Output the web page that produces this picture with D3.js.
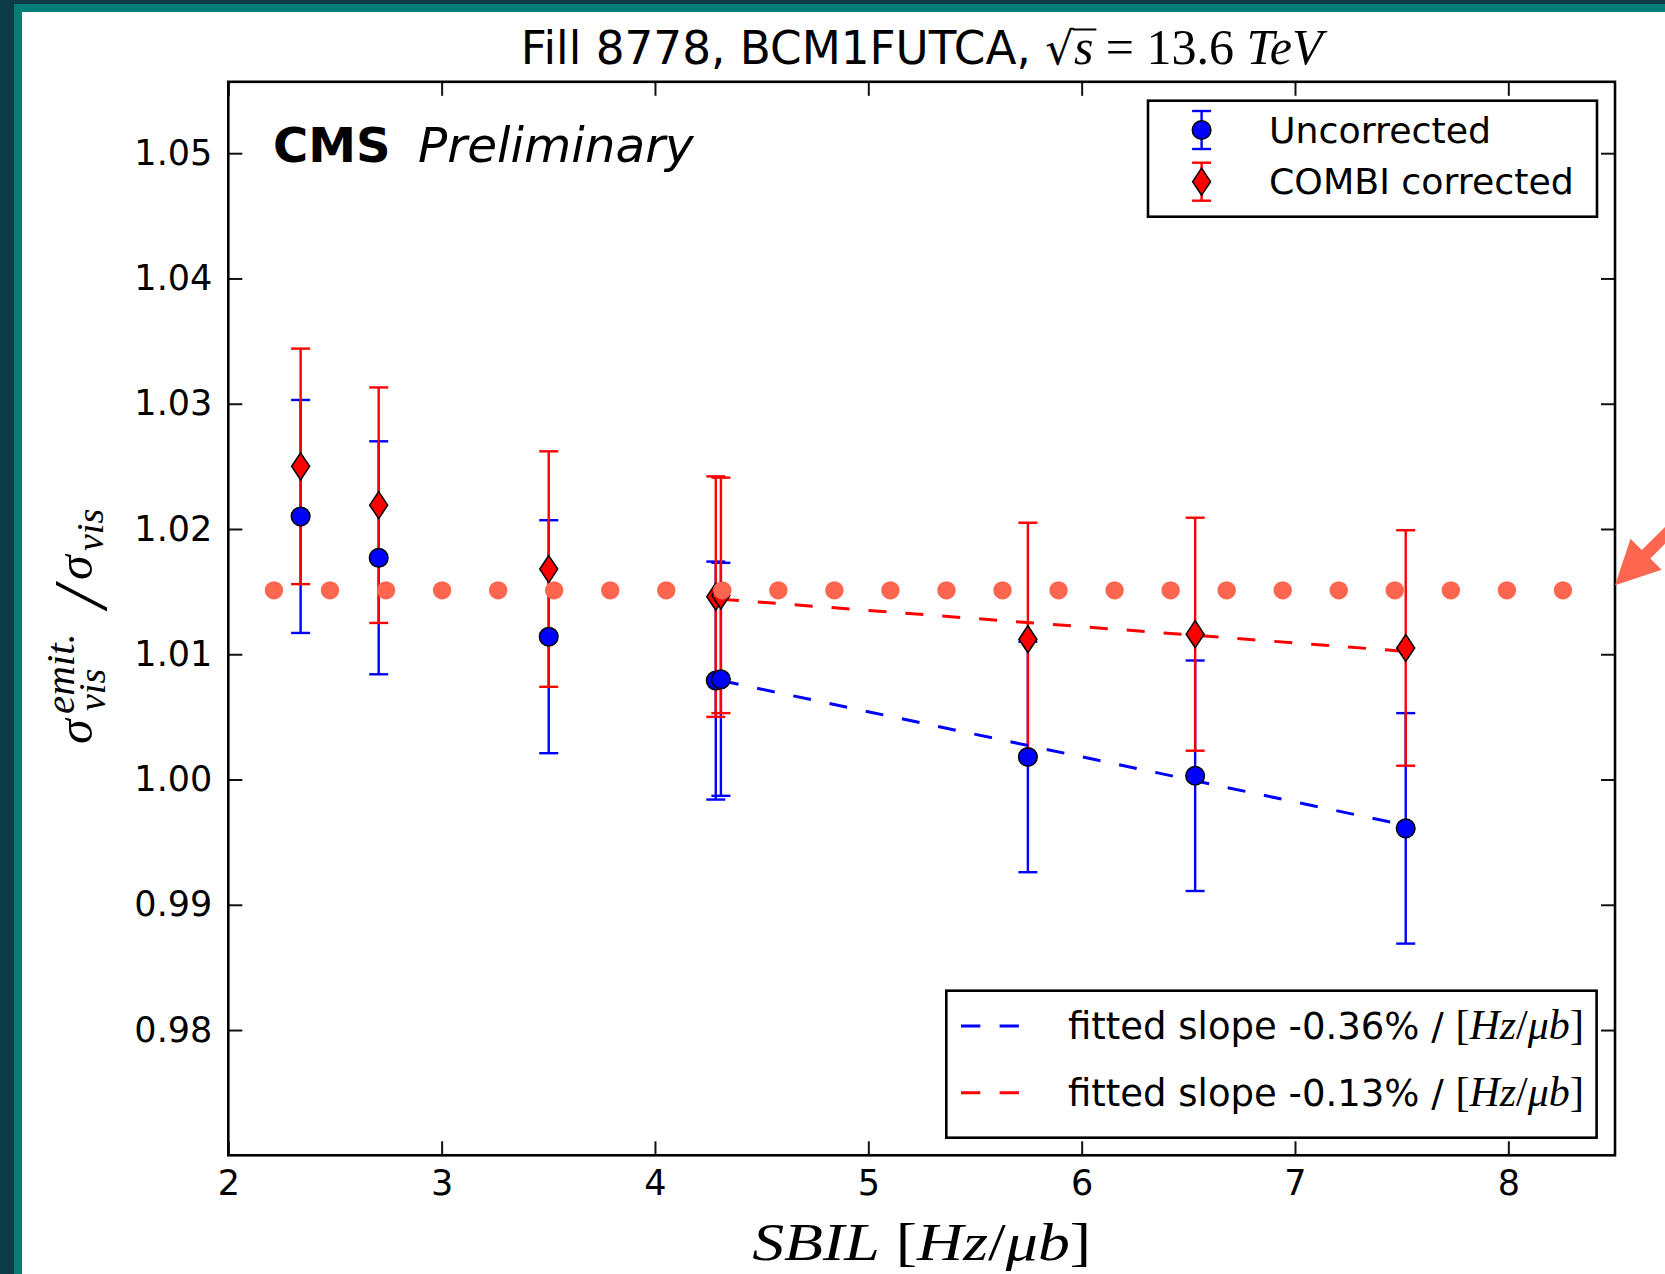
<!DOCTYPE html>
<html>
<head>
<meta charset="utf-8">
<script src="https://cdn.jsdelivr.net/npm/d3@7"></script>
<style>
  body { margin: 0; background: #fff; }
  svg { display: block; }
  text { white-space: pre; }
</style>
</head>
<body>
<script>
// Emittance-scan visible cross section ratio vs SBIL, fill 8778 (BCM1FUTCA)
const sbil           = [2.339, 2.705, 3.502, 4.285, 4.309, 5.748, 6.532, 7.519];
const uncorrected    = [1.0210, 1.0177, 1.0114, 1.0079, 1.0080, 1.0018, 1.0003, 0.9961];
const uncorrectedErr = [0.0093, 0.0093, 0.0093, 0.0095, 0.0093, 0.0092, 0.0092, 0.0092];
const combi          = [1.0250, 1.0219, 1.0168, 1.0146, 1.0147, 1.0112, 1.0116, 1.0105];
const combiErr       = [0.0094, 0.0094, 0.0094, 0.0096, 0.0094, 0.0093, 0.0093, 0.0094];

// linear fits over the high-SBIL points (slope per Hz/µb)
const fitRange       = [4.309, 7.519];
const fitSlopes      = [-0.0036, -0.0013];
const fitStartValues = [1.0079, 1.0144];
const fitLabels      = ["fitted slope -0.36% / ", "fitted slope -0.13% / "];

const seriesNames = ["Uncorrected", "COMBI corrected"];
const xTicks = [2, 3, 4, 5, 6, 7, 8];
const yTicks = [0.98, 0.99, 1.00, 1.01, 1.02, 1.03, 1.04, 1.05];

// highlighted reference level (dotted guide with arrow)
const refLevel = 1.0151;
const refSpan  = [2.214, 8.256];
const refDots  = 24;

const fSans  = "'DejaVu Sans', 'Noto Sans', sans-serif";
const fSerif = "'Liberation Serif', 'DejaVu Serif', serif";
const BLUE = "#0000ff", RED = "#ff0000", ACCENT = "#ff6650";

const W = 1665, H = 1274;
const M = { left: 228.3, right: 1615, top: 81.8, bottom: 1155.3 };

const svg = d3.select("body").append("svg").attr("width", W).attr("height", H);
svg.append("rect").attr("width", W).attr("height", H).attr("fill", "#fff");

// slide frame stripes
svg.append("rect").attr("x", 0).attr("y", 0).attr("width", W).attr("height", 12).attr("fill", "#047d76");
svg.append("rect").attr("x", 0).attr("y", 0).attr("width", 22).attr("height", H).attr("fill", "#047d76");
svg.append("rect").attr("x", 0).attr("y", 0).attr("width", W).attr("height", 4).attr("fill", "#0d3b47");
svg.append("rect").attr("x", 0).attr("y", 0).attr("width", 14).attr("height", H).attr("fill", "#0d3b47");

const x = d3.scaleLinear().domain([2, 8.5]).range([M.left, M.right]);
const y = d3.scaleLinear().domain([0.97, 1.0557]).range([M.bottom, M.top]);

// axes with inward ticks on all four sides
const styleAxis = g => {
  g.select(".domain").remove();
  g.selectAll(".tick line").attr("stroke", "#111").attr("stroke-width", 2);
  g.selectAll(".tick text").attr("font-family", fSans).attr("font-size", 35).attr("fill", "#000");
};
svg.append("g").attr("transform", `translate(0,${M.bottom})`)
  .call(d3.axisBottom(x).tickValues(xTicks).tickFormat(d3.format("d")).tickSize(-14).tickSizeOuter(0).tickPadding(15))
  .call(styleAxis);
svg.append("g").attr("transform", `translate(0,${M.top})`)
  .call(d3.axisTop(x).tickValues(xTicks).tickFormat("").tickSize(-14).tickSizeOuter(0))
  .call(styleAxis);
svg.append("g").attr("transform", `translate(${M.left},0)`)
  .call(d3.axisLeft(y).tickValues(yTicks).tickFormat(d3.format(".2f")).tickSize(-14).tickSizeOuter(0).tickPadding(16))
  .call(styleAxis);
svg.append("g").attr("transform", `translate(${M.right},0)`)
  .call(d3.axisRight(y).tickValues(yTicks).tickFormat("").tickSize(-14).tickSizeOuter(0))
  .call(styleAxis);

const series = [
  { name: seriesNames[0], vals: uncorrected, errs: uncorrectedErr, color: BLUE, marker: "circle" },
  { name: seriesNames[1], vals: combi,       errs: combiErr,       color: RED,  marker: "diamond" }
];
const CAP = 9.5;
const diamondPath = "M0,-13.5L9,0L0,13.5L-9,0Z";

// error bars
series.forEach(s => {
  const g = svg.append("g").attr("stroke", s.color).attr("stroke-width", 2.4);
  sbil.forEach((xv, i) => {
    const x0 = x(xv), yHi = y(s.vals[i] + s.errs[i]), yLo = y(s.vals[i] - s.errs[i]);
    g.append("line").attr("x1", x0).attr("x2", x0).attr("y1", yHi).attr("y2", yLo);
    g.append("line").attr("x1", x0 - CAP).attr("x2", x0 + CAP).attr("y1", yHi).attr("y2", yHi);
    g.append("line").attr("x1", x0 - CAP).attr("x2", x0 + CAP).attr("y1", yLo).attr("y2", yLo);
  });
});

// fitted lines
series.forEach((s, i) => {
  const v0 = fitStartValues[i];
  const v1 = v0 + fitSlopes[i] * (fitRange[1] - fitRange[0]);
  svg.append("line")
    .attr("x1", x(fitRange[0])).attr("y1", y(v0))
    .attr("x2", x(fitRange[1])).attr("y2", y(v1))
    .attr("stroke", s.color).attr("stroke-width", 3).attr("stroke-dasharray", "18,19");
});

// markers
series.forEach(s => {
  const g = svg.append("g");
  sbil.forEach((xv, i) => {
    if (s.marker === "circle") {
      g.append("circle").attr("cx", x(xv)).attr("cy", y(s.vals[i])).attr("r", 9.3)
        .attr("fill", s.color).attr("stroke", "#000").attr("stroke-width", 1.5);
    } else {
      g.append("path").attr("d", diamondPath)
        .attr("transform", `translate(${x(xv)},${y(s.vals[i])})`)
        .attr("fill", s.color).attr("stroke", "#000").attr("stroke-width", 1.5);
    }
  });
});

// plot frame
svg.append("rect").attr("x", M.left).attr("y", M.top)
  .attr("width", M.right - M.left).attr("height", M.bottom - M.top)
  .attr("fill", "none").attr("stroke", "#000").attr("stroke-width", 2.6);

// CMS label
svg.append("text").attr("x", 273).attr("y", 162).attr("font-family", fSans).attr("font-size", 48)
  .attr("font-weight", "bold").attr("fill", "#000").text("CMS");
svg.append("text").attr("x", 418).attr("y", 162).attr("font-family", fSans).attr("font-size", 48.5)
  .attr("font-style", "italic").attr("fill", "#000").text("Preliminary");

// legend: data series
const lg1 = svg.append("g");
lg1.append("rect").attr("x", 1148).attr("y", 100.7).attr("width", 449).attr("height", 116)
  .attr("fill", "#fff").attr("stroke", "#000").attr("stroke-width", 2.6);
series.forEach((s, i) => {
  const cy = 130 + i * 51.7, cx = 1201.6;
  const g = lg1.append("g");
  g.append("line").attr("x1", cx).attr("x2", cx).attr("y1", cy - 19).attr("y2", cy + 19).attr("stroke", s.color).attr("stroke-width", 2.4);
  [cy - 19, cy + 19].forEach(yy => g.append("line").attr("x1", cx - CAP).attr("x2", cx + CAP).attr("y1", yy).attr("y2", yy).attr("stroke", s.color).attr("stroke-width", 2.4));
  if (s.marker === "circle") {
    g.append("circle").attr("cx", cx).attr("cy", cy).attr("r", 9.3).attr("fill", s.color).attr("stroke", "#000").attr("stroke-width", 1.5);
  } else {
    g.append("path").attr("d", diamondPath).attr("transform", `translate(${cx},${cy})`).attr("fill", s.color).attr("stroke", "#000").attr("stroke-width", 1.5);
  }
  g.append("text").attr("x", 1269).attr("y", cy + 12.5).attr("font-family", fSans).attr("font-size", 36.3).attr("fill", "#000").text(s.name);
});

// legend: fits
const lg2 = svg.append("g");
lg2.append("rect").attr("x", 946.3).attr("y", 990.7).attr("width", 650.3).attr("height", 147)
  .attr("fill", "#fff").attr("stroke", "#000").attr("stroke-width", 2.6);
series.forEach((s, i) => {
  const cy = 1026 + i * 66.7;
  lg2.append("line").attr("x1", 961).attr("x2", 1019).attr("y1", cy).attr("y2", cy)
    .attr("stroke", s.color).attr("stroke-width", 3).attr("stroke-dasharray", "19.3,19.3");
  const t = lg2.append("text").attr("x", 1068).attr("y", cy + 13).attr("fill", "#000");
  t.append("tspan").attr("font-family", fSans).attr("font-size", 37).text(fitLabels[i]);
  const m = t.append("tspan").attr("font-family", fSerif).attr("font-size", 42);
  m.append("tspan").text("[");
  m.append("tspan").attr("font-style", "italic").text("Hz");
  m.append("tspan").text("/");
  m.append("tspan").attr("font-style", "italic").text("μb");
  m.append("tspan").text("]");
});

// reference level guide and arrow
const dotXs = d3.range(refDots).map(k => refSpan[0] + k * (refSpan[1] - refSpan[0]) / (refDots - 1));
svg.append("g").selectAll("circle").data(dotXs).join("circle")
  .attr("cx", d => x(d)).attr("cy", y(refLevel)).attr("r", 9.2).attr("fill", ACCENT);
svg.append("path")
  .attr("d", "M0,0L44,22L44,6L220,6L220,-6L44,-6L44,-22Z")
  .attr("transform", `translate(${x(8.5)},${y(refLevel) - 5}) rotate(-45)`)
  .attr("fill", ACCENT);

// title
const title = svg.append("g");
const pieces = [
  { t: "Fill 8778, BCM1FUTCA, ", f: fSans, s: 45.3 },
  { t: "√", f: "'DejaVu Serif', serif", s: 45 },
  { t: "s", f: fSerif, s: 50, it: true },
  { t: " = 13.6 ", f: fSerif, s: 50 },
  { t: "TeV", f: fSerif, s: 50, it: true }
];
let cursor = 0;
pieces.forEach(p => {
  const t = title.append("text").attr("x", cursor).attr("y", 64)
    .attr("font-family", p.f).attr("font-size", p.s).attr("fill", "#000")
    .attr("font-style", p.it ? "italic" : "normal").text(p.t);
  p.x = cursor;
  p.w = t.node().getComputedTextLength();
  cursor += p.w;
});
title.append("line").attr("x1", pieces[2].x - 1).attr("x2", pieces[2].x + pieces[2].w + 3)
  .attr("y1", 29.5).attr("y2", 29.5).attr("stroke", "#000").attr("stroke-width", 2);
title.attr("transform", `translate(${(M.left + M.right) / 2 - cursor / 2},0)`);

// x axis label
const xl = svg.append("text").attr("x", (M.left + M.right) / 2).attr("y", 1260)
  .attr("text-anchor", "middle").attr("font-family", fSerif).attr("font-size", 53).attr("fill", "#000")
  .attr("textLength", 339).attr("lengthAdjust", "spacingAndGlyphs");
xl.append("tspan").attr("font-style", "italic").text("SBIL");
xl.append("tspan").text(" [");
xl.append("tspan").attr("font-style", "italic").text("Hz");
xl.append("tspan").text("/");
xl.append("tspan").attr("font-style", "italic").text("μb");
xl.append("tspan").text("]");

// y axis label, rotated pieces
const yl = svg.append("g").attr("font-family", fSerif).attr("fill", "#000");
const rotText = (txt, bx, sy, size, italic = true) =>
  yl.append("text").attr("transform", `translate(${bx},${sy}) rotate(-90)`)
    .attr("font-size", size).attr("font-style", italic ? "italic" : "normal").text(txt);
rotText("σ", 92, 744, 50);
rotText("emit.", 74, 714, 41);
rotText("vis", 105, 711, 38);
rotText("/", 106, 608, 76);
rotText("σ", 92, 580, 50);
rotText("vis", 103, 551, 38);
</script>
</body>
</html>
